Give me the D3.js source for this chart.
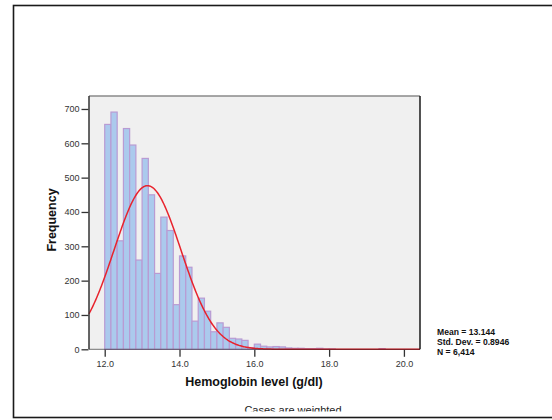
<!DOCTYPE html>
<html>
<head>
<meta charset="utf-8">
<script src="https://cdn.jsdelivr.net/npm/d3@7"></script>
<style>
  html, body { margin: 0; padding: 0; background: #fff; }
  svg { display: block; font-family: "Liberation Sans", Arial, Helvetica, sans-serif; }
</style>
</head>
<body>
<svg id="chart" width="552" height="420"></svg>
<script>
// ---- Data ----
const binStart = 12.0;
const binWidth = 1 / 6;
const binCounts = [655, 691, 316, 643, 595, 260, 556, 450, 221, 385, 346, 130,
                   272, 239, 82, 149, 111, 51, 77, 64, 32, 30, 26, 5,
                   15, 9, 7, 8, 7, 4, 3, 3, 2, 2, 3, 1,
                   1, 0, 0, 0, 0, 0, 0, 0, 2];
const xTicks = [12, 14, 16, 18, 20];
const yTicks = [0, 100, 200, 300, 400, 500, 600, 700];
const statMean = 13.144;
const statSD = 0.8946;
const statN = 6414;
const statLines = ["Mean = 13.144", "Std. Dev. = 0.8946", "N = 6,414"];
const xTitle = "Hemoglobin level (g/dl)";
const yTitle = "Frequency";
const footnote = "Cases are weighted";

// ---- Layout ----
const svg = d3.select("#chart");
const plot = { left: 89, right: 420, top: 96, bottom: 349.3 };

const x = d3.scaleLinear().domain([11.58, 20.43]).range([plot.left, plot.right]);
const y = d3.scaleLinear().domain([0, 737.8]).range([plot.bottom, plot.top]);

// outer frame
svg.append("rect")
  .attr("x", 13.5).attr("y", 5.5).attr("width", 600).attr("height", 412)
  .attr("fill", "#fff").attr("stroke", "#1a1a1a").attr("stroke-width", 1.6);

// plot background
svg.append("rect")
  .attr("x", plot.left).attr("y", plot.top)
  .attr("width", plot.right - plot.left).attr("height", plot.bottom - plot.top)
  .attr("fill", "#f0f0f0");

// bars
const bins = binCounts.map((c, i) => ({ x0: binStart + i * binWidth, x1: binStart + (i + 1) * binWidth, c }))
  .filter(d => d.c > 0);
svg.append("g").selectAll("rect").data(bins).join("rect")
  .attr("x", d => x(d.x0))
  .attr("y", d => y(d.c))
  .attr("width", d => x(d.x1) - x(d.x0))
  .attr("height", d => y(0) - y(d.c))
  .attr("fill", "#abcaed")
  .attr("stroke", "#b99bd3")
  .attr("stroke-width", 1.2);

// normal curve
const scaleN = statN * binWidth / (statSD * Math.sqrt(2 * Math.PI));
const curvePts = d3.range(0, 401).map(i => {
  const v = 11.58 + (20.43 - 11.58) * i / 400;
  const z = (v - statMean) / statSD;
  return [v, scaleN * Math.exp(-0.5 * z * z)];
});
svg.append("path")
  .datum(curvePts)
  .attr("d", d3.line().x(d => x(d[0])).y(d => y(d[1])))
  .attr("fill", "none")
  .attr("stroke", "#e8232d")
  .attr("stroke-width", 1.5);

// plot border
svg.append("line").attr("x1", plot.left).attr("x2", plot.right).attr("y1", plot.top).attr("y2", plot.top)
  .attr("stroke", "#8a8a8a").attr("stroke-width", 1.5);
svg.append("line").attr("x1", plot.right).attr("x2", plot.right).attr("y1", plot.top).attr("y2", plot.bottom)
  .attr("stroke", "#1a1a1a").attr("stroke-width", 1.5);
svg.append("line").attr("x1", plot.left).attr("x2", plot.left).attr("y1", plot.top).attr("y2", plot.bottom)
  .attr("stroke", "#333", ).attr("stroke-width", 1.5);
svg.append("line").attr("x1", plot.left).attr("x2", plot.right).attr("y1", plot.bottom).attr("y2", plot.bottom)
  .attr("stroke", "#222").attr("stroke-width", 1.2).attr("opacity", 0.5);

// axes
const yAxis = svg.append("g")
  .attr("transform", `translate(${plot.left - 0.5},0)`)
  .call(d3.axisLeft(y).tickValues(yTicks).tickSize(7).tickPadding(2).tickFormat(d3.format("d")));
const xAxis = svg.append("g")
  .attr("transform", `translate(0,${plot.bottom + 0.5})`)
  .call(d3.axisBottom(x).tickValues(xTicks).tickSize(7).tickPadding(4).tickFormat(d3.format(".1f")));
[yAxis, xAxis].forEach(g => {
  g.select(".domain").remove();
  g.selectAll(".tick line").attr("stroke", "#333").attr("stroke-width", 1.3);
  g.selectAll(".tick text").attr("fill", "#333").attr("font-size", 9)
    .attr("font-family", "'Liberation Sans', Arial, sans-serif");
});

// titles
svg.append("text")
  .attr("x", 254).attr("y", 386)
  .attr("text-anchor", "middle")
  .attr("font-size", 12.5).attr("font-weight", "bold").attr("fill", "#111")
  .text(xTitle);
svg.append("text")
  .attr("transform", "translate(56,220) rotate(-90)")
  .attr("text-anchor", "middle")
  .attr("font-size", 12.5).attr("font-weight", "bold").attr("fill", "#111")
  .text(yTitle);

// stats
svg.append("g").selectAll("text").data(statLines).join("text")
  .attr("x", 437).attr("y", (d, i) => 335 + i * 9.9)
  .attr("font-size", 8.6).attr("font-weight", "bold").attr("fill", "#111")
  .text(d => d);

// footnote (clipped at the bottom like the reference)
svg.append("clipPath").attr("id", "footclip")
  .append("rect").attr("x", 0).attr("y", 395).attr("width", 552).attr("height", 16.5);
svg.append("text")
  .attr("x", 293).attr("y", 414)
  .attr("text-anchor", "middle")
  .attr("clip-path", "url(#footclip)")
  .attr("font-size", 11).attr("fill", "#222")
  .text(footnote);
</script>
</body>
</html>
